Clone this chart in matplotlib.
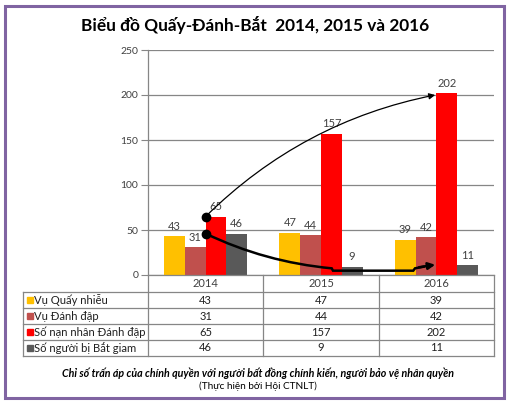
import matplotlib
matplotlib.use("Agg")
import matplotlib.pyplot as plt
from matplotlib.patches import Rectangle, PathPatch
from matplotlib.path import Path
from matplotlib.lines import Line2D

plt.rcParams['font.family'] = ['Lato', 'DejaVu Sans']

years = ['2014', '2015', '2016']
series_names = ['Vụ Quấy nhiễu', 'Vụ Đánh đập', 'Số nạn nhân Đánh đập', 'Số người bị Bắt giam']
quay_nhieu = [43, 47, 39]
danh_dap = [31, 44, 42]
nan_nhan = [65, 157, 202]
bat_giam = [46, 9, 11]
series = [quay_nhieu, danh_dap, nan_nhan, bat_giam]
colors = ['#FFC000', '#C0504D', '#FF0000', '#595959']
yticks = [0, 50, 100, 150, 200, 250]
title = 'Biểu đồ Quấy-Đánh-Bắt  2014, 2015 và 2016'
subtitle = 'Chỉ số trấn áp của chính quyền với người bất đồng chính kiến, người bảo vệ nhân quyền'
credit = '(Thực hiện bởi Hội CTNLT)'

W, H = 511, 405
fig = plt.figure(figsize=(W / 100, H / 100), dpi=100)
fig.patch.set_facecolor('white')

# purple border
fig.patches.append(Rectangle((5 / W, 1 - 398 / H), 499 / W, 392 / H, transform=fig.transFigure,
                             fill=False, edgecolor='#8064A2', linewidth=2.2))

ax = fig.add_axes([148 / W, 1 - 275 / H, 346 / W, 225 / H])
ax.set_xlim(-0.5, 2.5)
ax.set_ylim(0, 250)

grid_c = '#868686'
bw = 0.18
for i, (vals, c) in enumerate(zip(series, colors)):
    off = (i - 1.5) * bw
    xs = [k + off for k in range(len(years))]
    ax.bar(xs, vals, width=bw, color=c, zorder=2)
    for x, v in zip(xs, vals):
        ax.text(x, v + 5, str(v), ha='center', va='bottom', fontsize=8, color='#404040', zorder=5)

ax.set_yticks(yticks)
ax.set_yticklabels([str(t) for t in yticks], fontsize=7.5, color='#404040')
ax.yaxis.grid(True, color=grid_c, linewidth=0.9, zorder=0)
ax.tick_params(axis='y', length=5, color=grid_c, pad=2)
ax.set_xticks([])
for s in ['top', 'right']:
    ax.spines[s].set_visible(False)
ax.spines['left'].set_color(grid_c)
ax.spines['bottom'].set_color(grid_c)
ax.spines['left'].set_linewidth(0.9)
ax.spines['bottom'].set_linewidth(0.9)

# thin arrow (victims)
ax.annotate('', xy=(1.99, 200), xytext=(0.0, nan_nhan[0]),
            arrowprops=dict(arrowstyle='-|>', color='black', lw=0.9,
                            connectionstyle='arc3,rad=-0.15', mutation_scale=9,
                            shrinkA=0, shrinkB=0), zorder=6)
# thick arrow (arrests)
verts = [(0.0, bat_giam[0]), (0.514, 14.4), (1.093, 7.4), (1.104, 4.8), (1.80, 4.8), (1.815, 7.4), (1.90, 9.5)]
codes = [Path.MOVETO, Path.CURVE3, Path.CURVE3, Path.LINETO, Path.LINETO, Path.LINETO, Path.LINETO]
ax.add_patch(PathPatch(Path(verts, codes), fill=False, edgecolor='black', lw=1.8, zorder=6))
ax.annotate('', xy=(1.99, 11.4), xytext=(1.85, 8.6),
            arrowprops=dict(arrowstyle='-|>', color='black', lw=1.8, mutation_scale=10,
                            shrinkA=0, shrinkB=0), zorder=6)
ax.plot([0.0, 0.0], [nan_nhan[0], bat_giam[0]], 'o', color='black', markersize=6, zorder=7, clip_on=False)

# data table
tA = ax.transAxes
rows_y = [(275 - y) / 225 for y in (291.7, 308.3, 324.3, 340, 355.5)]
head_y = (275 - 283.5) / 225
leg_left = (23 - 148) / 346
lc = grid_c
lk = dict(color=lc, linewidth=0.9, transform=tA, clip_on=False)
for yv in rows_y:
    ax.add_line(Line2D([leg_left, 1], [yv, yv], **lk))
for xv in [0, 1 / 3, 2 / 3, 1]:
    ax.add_line(Line2D([xv, xv], [0, rows_y[-1]], **lk))
ax.add_line(Line2D([leg_left, leg_left], [rows_y[0], rows_y[-1]], **lk))

for k, yr in enumerate(years):
    ax.text((k + 0.5) / 3, head_y, yr, transform=tA, ha='center', va='center', fontsize=8, color='#404040')
for r, (name, vals, c) in enumerate(zip(series_names, series, colors)):
    yc = (rows_y[r] + rows_y[r + 1]) / 2
    ax.plot([(30 - 148) / 346], [yc], 's', color=c, markersize=4.5, transform=tA, clip_on=False)
    ax.text((34.5 - 148) / 346, yc, name, transform=tA, ha='left', va='center', fontsize=8.1, color='#202020')
    for k, v in enumerate(vals):
        ax.text((k + 0.5) / 3, yc, str(v), transform=tA, ha='center', va='center', fontsize=8, color='#202020')

fig.text(255 / W, 1 - 25 / H, title, ha='center', va='center', fontsize=12.4, fontweight='bold', color='black')
fig.text(258 / W, 1 - 373 / H, subtitle, ha='center', va='center', fontsize=7.7, fontweight='bold',
         fontstyle='italic', color='black')
fig.text(258 / W, 1 - 386.5 / H, credit, ha='center', va='center', fontsize=7.2, color='black')

fig.savefig('out.png', dpi=100, facecolor='white')
